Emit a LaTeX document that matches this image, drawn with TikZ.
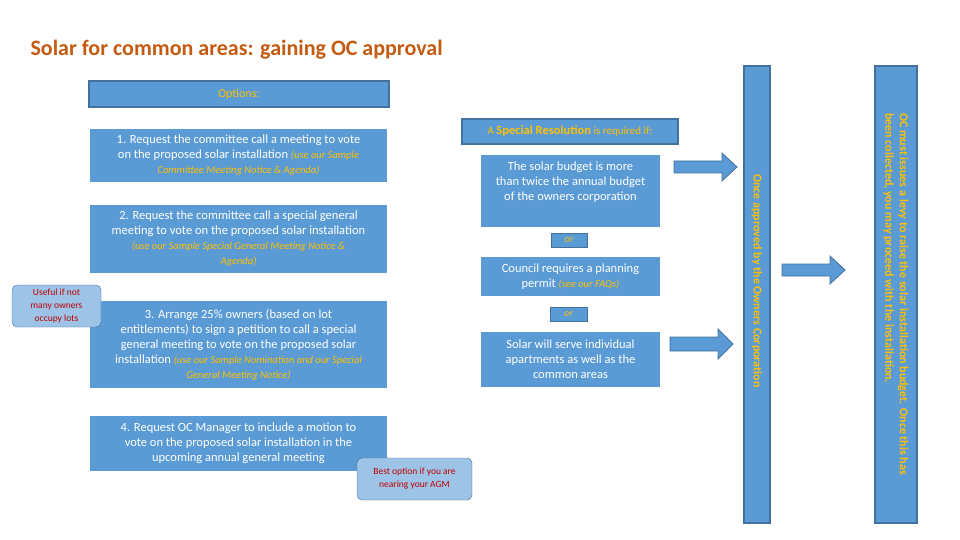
\documentclass[tikz,border=0pt]{standalone}
\usepackage{fontspec}
\setmainfont{Carlito}
\usetikzlibrary{shapes.arrows}
\definecolor{bfill}{HTML}{5B9BD5}
\definecolor{bdraw}{HTML}{41719C}
\definecolor{yel}{HTML}{FFC000}
\definecolor{lb}{HTML}{9DC3E6}
\definecolor{ttl}{HTML}{C55A11}
\definecolor{redt}{HTML}{C00000}
\begin{document}
\begin{tikzpicture}[x=1pt,y=-1pt,
 box/.style={fill=bfill,draw=none,text=white,align=center,font=\fontsize{12.5}{15}\selectfont,inner sep=2pt},
 hbox/.style={fill=bfill,draw=bdraw,line width=1.2pt},
 note/.style={fill=lb,draw=bdraw,rounded corners=5pt,text=redt,align=center,font=\fontsize{9.5}{12}\selectfont},
 bigarrow/.style={fill=bfill,draw=bdraw,line width=0.8pt}]
\useasboundingbox (0,0) rectangle (960,540);
\node[anchor=west,text=ttl,font=\fontsize{22}{26}\selectfont\bfseries] (title) at (27,50) {Solar for common areas: gaining OC approval};
% options
\draw[hbox] (89,81) rectangle (389,107);
\node[text=yel,font=\fontsize{12}{14}\selectfont] (opt) at (239,94) {Options:};
\newcommand{\yi}[1]{{\color{yel}\itshape\fontsize{10.5}{13}\selectfont #1}}
\fill[bfill] (90,129) rectangle (387,182);
\node[box] (b1) at (238.5,155.5) {1. Request the committee call a meeting to vote\\on the proposed solar installation \yi{(use our Sample}\\\yi{Committee Meeting Notice \& Agenda)}};
\fill[bfill] (90,205) rectangle (387,273);
\node[box] (b2) at (238.5,239) {2. Request the committee call a special general\\meeting to vote on the proposed solar installation\\\yi{(use our Sample Special General Meeting Notice \&}\\\yi{Agenda)}};
\fill[bfill] (90,301) rectangle (387,388);
\node[box] (b3) at (238.5,344.5) {3. Arrange 25\% owners (based on lot\\entitlements) to sign a petition to call a special\\general meeting to vote on the proposed solar\\installation \yi{(use our Sample Nomination and our Special}\\\yi{General Meeting Notice)}};
\fill[bfill] (90,416) rectangle (387,471);
\node[box] (b4) at (238.5,443) {4. Request OC Manager to include a motion to\\vote on the proposed solar installation in the\\upcoming annual general meeting};
\draw[note] (12,285) rectangle (101,327);
\node[text=redt,align=center,font=\fontsize{9.5}{13}\selectfont] (u) at (56.5,306) {Useful if not\\many owners\\occupy lots};
\draw[note] (357,458) rectangle (472,500);
\node[text=redt,align=center,font=\fontsize{9.5}{13}\selectfont] (bo) at (414.5,479) {Best option if you are\\nearing your AGM};
% right
\draw[hbox] (462,119) rectangle (678,144);
\node[text=yel,font=\fontsize{11}{13}\selectfont] (sr) at (570,131.5) {A \textbf{\fontsize{12.5}{14}\selectfont Special Resolution} is required if:};
\fill[bfill] (481,155) rectangle (660,227);
\node[box] (r1) at (570.5,182) {The solar budget is more\\than twice the annual budget\\of the owners corporation};
\draw[hbox,line width=1pt] (551,233) rectangle (587,247);
\node[text=yel,font=\itshape\fontsize{10}{12}\selectfont] (or1) at (569,240) {or};
\fill[bfill] (481,257) rectangle (660,296);
\node[box] (r2) at (570.5,276.5) {Council requires a planning\\permit \yi{(see our FAQs)}};
\draw[hbox,line width=1pt] (550,307) rectangle (587,321);
\node[text=yel,font=\itshape\fontsize{10}{12}\selectfont] (or2) at (568.5,314) {or};
\fill[bfill] (481,332) rectangle (660,387);
\node[box] (r3) at (570.5,359.5) {Solar will serve individual\\apartments as well as the\\common areas};
% bars
\draw[hbox] (744,66) rectangle (770,523);
\node[rotate=-90,text=yel,font=\bfseries\fontsize{12}{14}\selectfont] (bar1) at (757,281) {Once approved by the Owners Corporation};
\draw[hbox] (875,66) rectangle (917,523);
\node[rotate=-90,text=yel,align=left,font=\bfseries\fontsize{12}{14.5}\selectfont] (bar2) at (896,294) {OC must issues a levy to raise the solar installation budget. Once this has\\been collected, you may proceed with the installation.};
% arrows
\draw[bigarrow] (674,161) -- (722,161) -- (722,153) -- (737,167) -- (722,181) -- (722,173) -- (674,173) -- cycle;
\draw[bigarrow] (670,337) -- (718,337) -- (718,329) -- (733,344) -- (718,359) -- (718,351) -- (670,351) -- cycle;
\draw[bigarrow] (782,264) -- (830,264) -- (830,256) -- (845,270) -- (830,284) -- (830,276) -- (782,276) -- cycle;
\end{tikzpicture}
\end{document}
